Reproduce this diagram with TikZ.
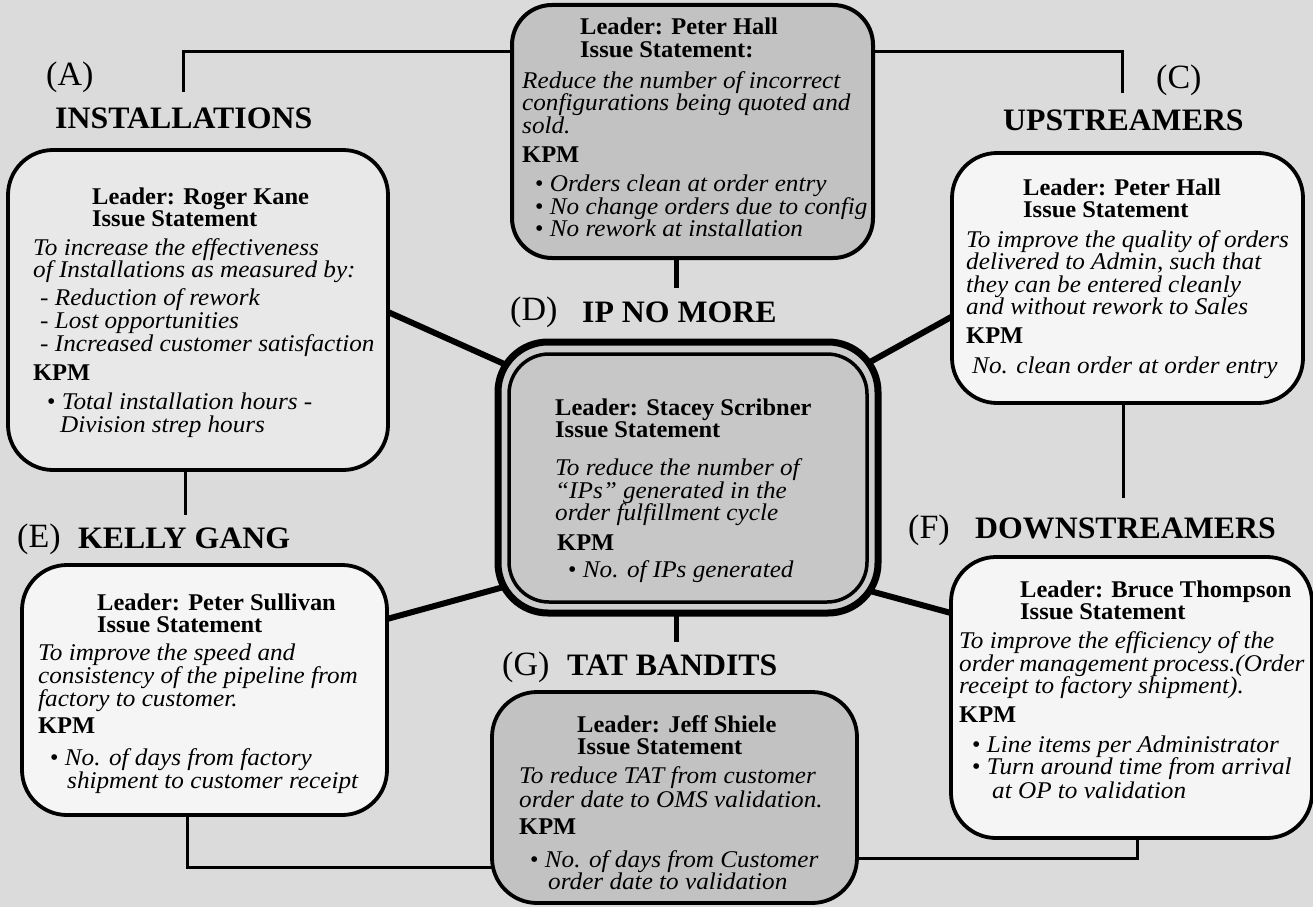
\documentclass[tikz,border=0pt]{standalone}
\usepackage{fontspec}
\setmainfont{Liberation Serif}[ItalicFeatures={FakeStretch=1.05}, BoldFeatures={FakeStretch=1.02}]
\usetikzlibrary{calc}
\pgfdeclarelayer{bg}
\pgfdeclarelayer{links}
\pgfsetlayers{bg,links,main}
\newcommand{\B}{\fontsize{24}{22}\selectfont\bfseries\upshape}
\newcommand{\I}{\fontsize{24}{22}\selectfont\mdseries\itshape}
\newcommand{\ind}[1]{\hspace*{#1pt}}
\newcommand{\nl}[1]{\\[#1pt]}
\newcommand{\bul}{{\upshape\textbullet}\ }
\newcommand{\boxtext}[1]{\parbox[t]{395pt}{\fontsize{24}{22}\selectfont\lineskiplimit=-\maxdimen\lineskip=0pt\relax #1}}
\begin{document}
\begin{tikzpicture}[x=1pt,y=-1pt,
  box/.style={draw, line width=3.8pt, rounded corners=45pt, inner sep=0pt, outer sep=0pt},
  wbox/.style={box, fill=black!4},
  lbox/.style={box, fill=black!9},
  gbox/.style={box, fill=black!24},
  link/.style={line width=3pt},
  heavy link/.style={line width=6pt},
  txt/.style={anchor=base west, inner sep=0pt},
  ttl/.style={anchor=base west, inner sep=0pt, font=\fontsize{31.2}{34}\selectfont\bfseries},
  lettr/.style={anchor=base west, inner sep=0pt, font=\fontsize{34}{36}\selectfont},
]
\begin{pgfonlayer}{bg}
\fill[black!14] (0,0) rectangle (1313,907);
\end{pgfonlayer}
\useasboundingbox (0,0) rectangle (1313,907);

% ---------- boxes ----------
\node[lbox, minimum width=380pt, minimum height=320pt] (boxA) at (198,310) {};
\node[gbox, line width=4pt, rounded corners=40pt, minimum width=361pt, minimum height=253pt] (boxB) at (692.5,131.5) {};
\node[wbox, minimum width=351pt, minimum height=250pt] (boxC) at (1127.5,278) {};
\node[gbox, fill=black!20, line width=7pt, rounded corners=50pt, minimum width=380pt, minimum height=271pt] (boxD) at (688,477.5) {};
\node[gbox, fill=black!22, line width=3.5pt, rounded corners=40pt, minimum width=358pt, minimum height=248pt] (boxDi) at (688,478) {};
\node[wbox, minimum width=365pt, minimum height=250pt] (boxE) at (204.5,690) {};
\node[wbox, minimum width=361pt, minimum height=281pt] (boxF) at (1131.5,697.5) {};
\node[gbox, minimum width=365pt, minimum height=211pt] (boxG) at (674.5,797.5) {};

% ---------- connector ends ----------
\coordinate (aTop) at (183,92);
\coordinate (cTop) at (1122,93);
\coordinate (dLbl) at (676,288);
\coordinate (gLbl) at (676,642);
\coordinate (eLbl) at (185,515);
\coordinate (fLbl) at (1123,498);

\begin{pgfonlayer}{links}
\draw[link] (aTop) |- (boxB.center |- 0,52);
\draw[link] (boxB.center |- 0,52) -| (cTop);
\draw[line width=5pt] (676,0 |- boxB.center) -- (dLbl);
\draw[heavy link] (boxA.center |- 0,312) -- (388,312) -- ($(388,312)!1.3!(502,363)$);
\draw[heavy link] (boxC.center |- 0,316) -- (953,316) -- ($(953,316)!1.3!(870,362)$);
\draw[heavy link] (boxE.center |- 0,619) -- (387,619) -- ($(387,619)!1.3!(500,588)$);
\draw[heavy link] (boxF.center |- 0,613) -- (951,613) -- ($(951,613)!1.3!(870,591)$);
\draw[line width=5pt] (676,0 |- boxD.center) -- (gLbl);
\draw[link] (185,0 |- boxA.center) -- (eLbl);
\draw[link] (1123,0 |- boxC.center) -- (fLbl);
\draw[link] (187,0 |- boxE.center) |- (boxG.center |- 0,867);
\draw[link] (boxG.center |- 0,858) -| (1137,0 |- boxF.center);
\end{pgfonlayer}

% ---------- group titles ----------
\node[lettr] (lA) at (46,85) {(A)};
\node[ttl] (tA) at (55,128) {INSTALLATIONS};
\node[lettr] (lC) at (1156,88) {(C)};
\node[ttl] (tC) at (1003,130) {UPSTREAMERS};
\node[lettr] (lD) at (510,320) {(D)};
\node[ttl] (tD) at (582,322) {IP NO MORE};
\node[lettr] (lE) at (17,547) {(E)};
\node[ttl] (tE) at (78,548) {KELLY GANG};
\node[lettr] (lF) at (908,538) {(F)};
\node[ttl] (tF) at (975,538) {DOWNSTREAMERS};
\node[lettr] (lG) at (502,675) {(G)};
\node[ttl] (tG) at (567,675) {TAT BANDITS};

% ---------- box texts ----------
\node[txt] (textA) at (33,204) {\boxtext{%
{\B\ind{59}Leader: Roger Kane}\nl{0}
{\B\ind{59}Issue Statement}\nl{7}
{\I To increase the effectiveness}\nl{0}
{\I of Installations as measured by:}\nl{6}
{\I\ind{7}- Reduction of rework}\nl{1}
{\I\ind{7}- Lost opportunities}\nl{1}
{\I\ind{7}- Increased customer satisfaction}\nl{7}
{\B KPM}\nl{7}
{\I\ind{14}\bul Total installation hours -}\nl{1}
{\I\ind{27}Division strep hours}}};

\node[txt] (textB) at (522,35) {\boxtext{%
{\B\ind{58}Leader: Peter Hall}\nl{1}
{\B\ind{58}Issue Statement:}\nl{8}
{\I Reduce the number of incorrect}\nl{0}
{\I configurations being quoted and}\nl{1}
{\I sold.}\nl{7}
{\B KPM}\nl{7}
{\I\ind{13}\bul Orders clean at order entry}\nl{1}
{\I\ind{13}\bul No change orders due to config}\nl{0}
{\I\ind{13}\bul No rework at installation}}};

\node[txt] (textC) at (966,195) {\boxtext{%
{\B\ind{57}Leader: Peter Hall}\nl{0}
{\B\ind{57}Issue Statement}\nl{8}
{\I To improve the quality of orders}\nl{0}
{\I delivered to Admin, such that}\nl{1}
{\I they can be entered cleanly}\nl{0}
{\I and without rework to Sales}\nl{7}
{\B KPM}\nl{8}
{\I\ind{6}No. clean order at order entry}}};

\node[txt] (textD) at (555,415) {\boxtext{%
{\B Leader: Stacey Scribner}\nl{0}
{\B Issue Statement}\nl{16}
{\I To reduce the number of}\nl{1}
{\I ``IPs'' generated in the}\nl{0}
{\I order fulfillment cycle}\nl{8}
{\B\ind{2}KPM}\nl{5}
{\I\ind{13}\bul No. of IPs generated}}};

\node[txt] (textE) at (38,610) {\boxtext{%
{\B\ind{59}Leader: Peter Sullivan}\nl{0}
{\B\ind{59}Issue Statement}\nl{6}
{\I To improve the speed and}\nl{1}
{\I consistency of the pipeline from}\nl{1}
{\I factory to customer.}\nl{5}
{\B KPM}\nl{10}
{\I\ind{12}\bul No. of days from factory}\nl{1}
{\I\ind{29}shipment to customer receipt}}};

\node[txt] (textF) at (959,597) {\boxtext{%
{\B\ind{61}Leader: Bruce Thompson}\nl{0}
{\B\ind{61}Issue Statement}\nl{7}
{\I To improve the efficiency of the}\nl{1}
{\I\spaceskip=0.8\fontdimen2\font order management process.(Order}\nl{0}
{\I receipt to factory shipment).}\nl{7}
{\B KPM}\nl{8}
{\I\ind{13}\bul Line items per Administrator}\nl{0}
{\I\ind{13}\bul Turn around time from arrival}\nl{2}
{\I\ind{33}at OP to validation}}};

\node[txt] (textG) at (519,732) {\boxtext{%
{\B\ind{58}Leader: Jeff Shiele}\nl{0}
{\B\ind{58}Issue Statement}\nl{7}
{\I To reduce TAT from customer}\nl{2}
{\I order date to OMS validation.}\nl{5}
{\B KPM}\nl{11}
{\I\ind{11}\bul No. of days from Customer}\nl{0}
{\I\ind{29}order date to validation}}};
\end{tikzpicture}
\end{document}
